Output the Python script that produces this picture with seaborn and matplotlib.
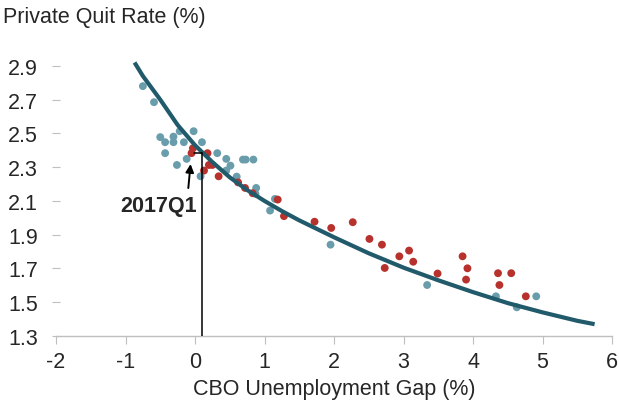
import numpy as np
import pandas as pd
import matplotlib
matplotlib.use("Agg")
import matplotlib.pyplot as plt
import seaborn as sns

# ---- data ----
blue_x = [-0.75, -0.59, -0.22, -0.02, -0.50, -0.31, -0.43, -0.31, -0.16, 0.10,
          -0.43, 0.32, -0.12, -0.26, 0.45, 0.69, 0.73, 0.84, 0.45, 0.51,
          0.08, 0.60, 0.88, 0.87, 1.15, 1.08, 1.95, 3.34, 4.33, 4.91, 4.63]
blue_y = [2.78, 2.685, 2.513, 2.513, 2.478, 2.481, 2.448, 2.448, 2.448, 2.448,
          2.383, 2.383, 2.349, 2.313, 2.349, 2.345, 2.345, 2.345, 2.28, 2.309,
          2.246, 2.244, 2.177, 2.142, 2.112, 2.043, 1.841, 1.602, 1.535, 1.535, 1.47]

red_x = [-0.03, -0.05, 0.18, 0.20, 0.25, 0.13, 0.34, 0.62, 0.72, 0.83,
         1.19, 1.28, 1.72, 1.96, 2.27, 2.51, 2.69, 2.73, 2.94, 3.08,
         3.14, 3.49, 3.85, 3.92, 3.90, 4.36, 4.55, 4.38, 4.76]
red_y = [2.412, 2.383, 2.383, 2.313, 2.313, 2.28, 2.246, 2.21, 2.177, 2.146,
         2.108, 2.01, 1.977, 1.94, 1.974, 1.875, 1.841, 1.703, 1.772, 1.806,
         1.74, 1.67, 1.772, 1.701, 1.634, 1.672, 1.672, 1.602, 1.535]

curve_x = [-0.87, -0.75, -0.5, -0.25, 0.0, 0.25, 0.5, 0.75, 1.0, 1.25, 1.5,
           2.0, 2.5, 3.0, 3.5, 4.0, 4.5, 5.0, 5.5, 5.75]
curve_y = [2.92, 2.84, 2.70, 2.55, 2.43, 2.33, 2.24, 2.165, 2.10, 2.04, 1.985,
           1.885, 1.79, 1.705, 1.63, 1.56, 1.495, 1.44, 1.39, 1.37]

x_ticks = [-2, -1, 0, 1, 2, 3, 4, 5, 6]
y_ticks = [1.3, 1.5, 1.7, 1.9, 2.1, 2.3, 2.5, 2.7, 2.9]

# ---- style ----
sns.set_style("white")
plt.rcParams['font.family'] = ['Liberation Sans', 'DejaVu Sans']

df = pd.DataFrame({
    "gap": blue_x + red_x,
    "quit": blue_y + red_y,
    "grp": ["a"] * len(blue_x) + ["b"] * len(red_x),
})
curve = pd.DataFrame({"gap": curve_x, "quit": curve_y})

fig = plt.figure(figsize=(6.19, 4.02), dpi=100)
ax = fig.add_axes([56/619, 1 - 337/402, (612 - 56)/619, (337 - 50)/402])

sns.scatterplot(data=df, x="gap", y="quit", hue="grp",
                palette={"a": "#6a9dab", "b": "#b8322d"},
                s=32, edgecolor="none", legend=False, ax=ax, zorder=2)
sns.lineplot(data=curve, x="gap", y="quit", color="#215a6b", lw=3.0,
             ax=ax, zorder=3, solid_capstyle="butt")

# 2017Q1 annotation
ax.plot([0.1, 0.1], [1.3, 2.383], color="black", lw=1.1, zorder=4)
ax.plot([-0.01, 0.1], [2.383, 2.383], color="black", lw=1.1, zorder=4)
ax.annotate("", xy=(-0.06, 2.335), xytext=(-0.1, 2.16),
            arrowprops=dict(arrowstyle="-|>", color="black", lw=1.4,
                            mutation_scale=12), zorder=5)
ax.text(-0.52, 2.075, "2017Q1", fontsize=15.5, fontweight="bold",
        ha="center", va="center")

ax.set_xlim(-2, 6)
ax.set_ylim(1.3, 3.0)
ax.set_xticks(x_ticks)
ax.set_xticklabels([str(v) for v in x_ticks])
ax.set_yticks(y_ticks)
ax.set_yticklabels([f"{v:.1f}" for v in y_ticks])

for s in ["top", "right", "left"]:
    ax.spines[s].set_visible(False)
ax.spines["bottom"].set_color("#bfbfbf")
ax.spines["bottom"].set_linewidth(1.0)
ax.tick_params(axis="x", direction="out", length=6, color="#bfbfbf",
               labelsize=15.5, pad=5, bottom=True)
ax.tick_params(axis="y", direction="inout", length=6, color="#bfbfbf",
               labelsize=15.5, pad=10, left=True)

ax.set_xlabel("CBO Unemployment Gap (%)", fontsize=15.5, labelpad=4)
ax.set_ylabel("")
fig.text(3/619, 1 - 18/402, "Private Quit Rate (%)", fontsize=15.5,
         ha="left", va="center")

fig.savefig("out.png", dpi=100)
